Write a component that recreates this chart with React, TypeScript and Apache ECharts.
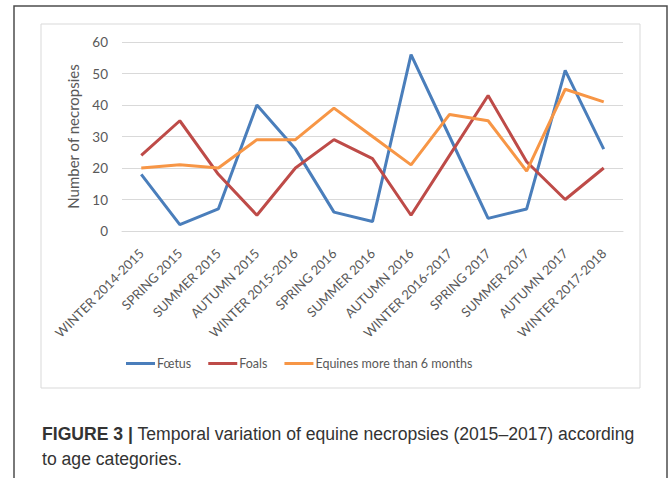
import React, { useEffect, useRef } from "react";
import * as echarts from "echarts";

const categories = [
  "WINTER 2014-2015",
  "SPRING 2015",
  "SUMMER 2015",
  "AUTUMN 2015",
  "WINTER 2015-2016",
  "SPRING 2016",
  "SUMMER 2016",
  "AUTUMN 2016",
  "WINTER 2016-2017",
  "SPRING 2017",
  "SUMMER 2017",
  "AUTUMN 2017",
  "WINTER 2017-2018",
];
const foetus = [18, 2, 7, 40, 26, 6, 3, 56, 30, 4, 7, 51, 26];
const foals = [24, 35, 18, 5, 20, 29, 23, 5, 24, 43, 22, 10, 20];
const equines = [20, 21, 20, 29, 29, 39, 30, 21, 37, 35, 19, 45, 41];
const seriesNames = ["Fœtus", "Foals", "Equines more than 6 months"];
const yTitle = "Number of necropsies";
const captionBold = "FIGURE 3 |";
const captionLine1 = " Temporal variation of equine necropsies (2015–2017) according";
const captionLine2 = "to age categories.";

export default function App() {
  const ref = useRef<HTMLDivElement>(null);
  useEffect(() => {
    document.body.style.margin = "0";
    const chart = echarts.init(ref.current!, null, { renderer: "svg" });
    const font = "Lato, 'Open Sans', sans-serif";
    const capFont = "'Liberation Sans', Arial, sans-serif";
    const mk = (name: string, data: number[], color: string) => ({
      name,
      type: "line",
      data,
      symbol: "none",
      lineStyle: { width: 3, color },
      itemStyle: { color },
    });
    chart.setOption({
      animation: false,
      backgroundColor: "#ffffff",
      textStyle: { fontFamily: font },
      grid: { left: 122, right: 47, top: 42, bottom: 247 },
      legend: {
        left: 121,
        top: 352,
        icon: "rect",
        itemWidth: 29,
        itemHeight: 3,
        itemGap: 17,
        textStyle: { fontSize: 12.5, color: "#595959", fontFamily: font, padding: [0, 0, 0, -3] },
        data: seriesNames,
      },
      xAxis: {
        type: "category",
        data: categories,
        boundaryGap: true,
        axisLine: { lineStyle: { color: "#d9d9d9" } },
        axisTick: { show: false },
        axisLabel: {
          interval: 0,
          rotate: 45,
          fontSize: 13,
          color: "#595959",
          margin: 20,
          fontFamily: font,
        },
      },
      yAxis: {
        type: "value",
        min: 0,
        max: 60,
        interval: 10,
        name: yTitle,
        nameLocation: "middle",
        nameGap: 42,
        nameTextStyle: { fontSize: 15, color: "#595959", fontFamily: font },
        axisLine: { show: false },
        axisTick: { show: false },
        axisLabel: { fontSize: 13.5, color: "#595959", margin: 14, fontFamily: font },
        splitLine: { lineStyle: { color: "#d9d9d9" } },
      },
      graphic: [
        {
          type: "rect",
          shape: { x: 41, y: 24, width: 599, height: 364 },
          style: { fill: "none", stroke: "#d9d9d9", lineWidth: 1 },
          silent: true,
        },
        {
          type: "polyline",
          shape: { points: [[14, 478], [14, 6], [667, 6], [667, 478]] },
          style: { fill: "none", stroke: "#4d4d4d", lineWidth: 1.5 },
          silent: true,
        },
        {
          type: "text",
          x: 42,
          y: 421,
          style: {
            text: "{b|" + captionBold + "}" + captionLine1 + "\n" + captionLine2,
            fontFamily: capFont,
            fontSize: 17.6,
            lineHeight: 25,
            fill: "#333333",
            rich: {
              b: { fontWeight: "bold", fontSize: 17.6, fontFamily: capFont, fill: "#333333" },
            },
          },
        },
      ],
      series: [
        mk(seriesNames[0], foetus, "#4a7ebb"),
        mk(seriesNames[1], foals, "#be4b48"),
        mk(seriesNames[2], equines, "#f79646"),
      ],
    });
    return () => chart.dispose();
  }, []);
  return <div ref={ref} style={{ width: 670, height: 478 }} />;
}
